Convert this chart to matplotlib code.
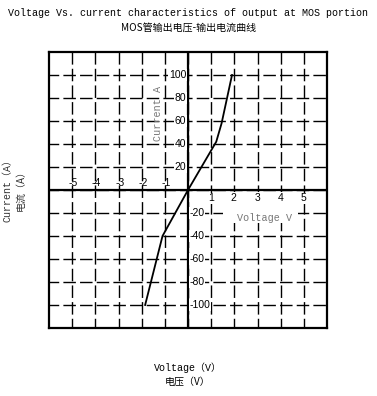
import matplotlib.pyplot as plt
from matplotlib.patches import Rectangle

# 曲线数据 (V, A)
voltage = [-1.85, -1.1, 0.0, 1.22, 1.45, 1.9]
current = [-100, -40, 0, 42, 58, 100]

x_ticks_neg = [-5, -4, -3, -2, -1]
x_ticks_pos = [1, 2, 3, 4, 5]
y_ticks_pos = [20, 40, 60, 80, 100]
y_ticks_neg = [-20, -40, -60, -80, -100]

mono = ['Liberation Mono', 'Noto Sans CJK SC']
cjk = ['Noto Sans CJK SC', 'Liberation Mono']

fig = plt.figure(figsize=(3.77, 3.96), dpi=100)
ax = fig.add_axes([49 / 377, 1 - 328 / 396, 278 / 377, 276 / 396])
ax.set_xlim(-6, 6)
ax.set_ylim(-120, 120)
ax.set_xticks([])
ax.set_yticks([])
for s in ax.spines.values():
    s.set_linewidth(1.6)

# 网格（长虚线）
dash = (2, (9, 3))
for gx in range(-5, 6):
    ax.axvline(gx, color='black', lw=1.0, ls=dash, zorder=1)
for gy in range(-100, 101, 20):
    ax.axhline(gy, color='black', lw=1.0, ls=dash, zorder=1)

# 坐标轴
ax.axhline(0, color='black', lw=1.6, zorder=3)
ax.axvline(0, color='black', lw=1.6, zorder=3)

# 右下角标签的白底
ax.add_patch(Rectangle((1.5, -29), 3.25, 27, facecolor='white', edgecolor='none', zorder=2))

ax.plot(voltage, current, color='black', lw=1.3, zorder=4)

tick_font = dict(family='Liberation Sans', fontsize=7.5, zorder=5)
white = dict(facecolor='white', edgecolor='none', pad=0.4)
for v in x_ticks_neg:
    ax.text(v + 0.05, 1.5, str(v), ha='center', va='bottom', **tick_font)
for v in x_ticks_pos:
    ax.text(v - 0.02, -3, str(v), ha='center', va='top', bbox=white, **tick_font)
for v in y_ticks_pos:
    ax.text(-0.07, v, str(v), ha='right', va='center', bbox=white, **tick_font)
for v in y_ticks_neg:
    ax.text(0.07, v, str(v), ha='left', va='center', bbox=white, **tick_font)

ax.text(-1.3, 67, 'Current A', rotation=90, ha='center', va='center',
        color='#777777', family=mono, fontsize=7.3, zorder=5)
ax.text(3.3, -24, 'Voltage V', ha='center', va='center',
        color='#777777', family=mono, fontsize=7.3, zorder=5)

fig.text(0.5, 1 - 13 / 396, 'Voltage Vs. current characteristics of output at MOS portion',
         ha='center', va='center', family=mono, fontsize=7.2)
fig.text(0.5, 1 - 28 / 396, 'MOS管输出电压-输出电流曲线',
         ha='center', va='center', family=cjk, fontsize=7.2)

fig.text(188 / 377, 1 - 368 / 396, 'Voltage（V）', ha='center', va='center',
         family=mono, fontsize=7.2)
fig.text(188 / 377, 1 - 382 / 396, '电压（V）', ha='center', va='center',
         family=cjk, fontsize=7.2)

fig.text(8 / 377, 1 - 188 / 396, 'Current（A）', rotation=90, ha='center', va='center',
         family=mono, fontsize=7.2, color='#333333')
fig.text(21 / 377, 1 - 188 / 396, '电流（A）', rotation=90, ha='center', va='center',
         family=cjk, fontsize=7.2, color='#333333')

fig.savefig('out.png', dpi=100)
